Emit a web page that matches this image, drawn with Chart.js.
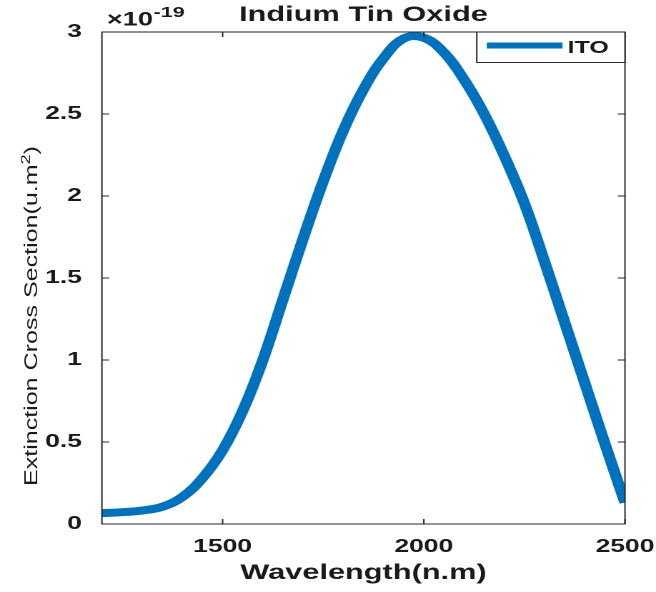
<!DOCTYPE html>
<html>
<head>
<meta charset="utf-8">
<title>Indium Tin Oxide</title>
<script src="https://cdn.jsdelivr.net/npm/chart.js@4.4.1/dist/chart.umd.min.js"></script>
<style>
  html, body { margin: 0; padding: 0; background: #fff; overflow: hidden; }
  /* figure is laid out narrow and stretched sideways, like the exported figure */
  #fig { width: 459px; height: 592px; transform: scaleX(1.4292); transform-origin: 0 0; }
</style>
</head>
<body>
<div id="fig"><canvas id="ito"></canvas></div>
<script>
// ── Data (extinction in units of 1e-19 u.m^2) ──────────────────────
var wavelength = [1200, 1250, 1300, 1350, 1400, 1450, 1500, 1550, 1600, 1650, 1700,
  1750, 1800, 1850, 1900, 1950, 2000, 2050, 2100, 2150, 2200, 2250, 2300,
  2350, 2400, 2450, 2500];
var extinction = [0.066, 0.072, 0.082, 0.105, 0.165, 0.28, 0.45, 0.69, 1.00, 1.37, 1.74,
  2.09, 2.40, 2.65, 2.84, 2.96, 2.965, 2.875, 2.71, 2.50, 2.245, 1.955, 1.60,
  1.23, 0.86, 0.49, 0.13];
var xTicks = [1500, 2000, 2500];
var yTicks = [0, 0.5, 1, 1.5, 2, 2.5, 3];

var seriesLabel = "ITO";
var titleText = "Indium Tin Oxide";
var xTitle = "Wavelength(n.m)";
var yTitleParts = ["Extinction Cross Section(u.m", "2", ")"];
var expParts = ["\u00d710", "-19"];

var FAMILY = '"Liberation Sans", Arial, Helvetica, sans-serif';
var INK = "#1a1a1a";
var FRAME = "#262626";
var BLUE = "#0072bd";

// ── Axes box, inward ticks, title, y label, exponent, legend ───────
var matlabLook = {
  id: "matlabLook",
  afterDraw: function (chart) {
    var ctx = chart.ctx;
    var a = chart.chartArea;
    var xs = chart.scales.x, ys = chart.scales.y;
    ctx.save();

    // frame
    ctx.strokeStyle = FRAME;
    ctx.lineWidth = 1;
    ctx.strokeRect(a.left, a.top, a.right - a.left, a.bottom - a.top);

    // inward tick marks on all four sides
    ctx.beginPath();
    xTicks.forEach(function (v) {
      var px = xs.getPixelForValue(v);
      ctx.moveTo(px, a.bottom); ctx.lineTo(px, a.bottom - 5);
      ctx.moveTo(px, a.top); ctx.lineTo(px, a.top + 5);
    });
    yTicks.forEach(function (v) {
      var py = ys.getPixelForValue(v);
      ctx.moveTo(a.left, py); ctx.lineTo(a.left + 5, py);
      ctx.moveTo(a.right, py); ctx.lineTo(a.right - 5, py);
    });
    ctx.stroke();

    // title over the axes
    ctx.fillStyle = INK;
    ctx.font = "bold 21.5px " + FAMILY;
    ctx.textAlign = "center";
    ctx.textBaseline = "alphabetic";
    ctx.fillText(titleText, (a.left + a.right) / 2, 21);

    // exponent label at the top of the y axis
    ctx.textAlign = "left";
    ctx.font = "bold 19px " + FAMILY;
    var ex = a.left + 3.5;
    ctx.fillText(expParts[0], ex, 25.5);
    ex += ctx.measureText(expParts[0]).width + 0.5;
    ctx.font = "bold 15px " + FAMILY;
    ctx.fillText(expParts[1], ex, 17);

    // rotated y title, long and narrow
    ctx.font = "12.5px " + FAMILY;
    var w1 = ctx.measureText(yTitleParts[0]).width;
    var w3 = ctx.measureText(yTitleParts[2]).width;
    ctx.font = "9px " + FAMILY;
    var w2 = ctx.measureText(yTitleParts[1]).width;
    var total = w1 + w2 + w3;
    ctx.save();
    ctx.translate(26, 316);
    ctx.rotate(-Math.PI / 2);
    ctx.scale(340 / total, 1);
    var x0 = -total / 2;
    ctx.font = "12.5px " + FAMILY;
    ctx.fillText(yTitleParts[0], x0, 0);
    ctx.fillText(yTitleParts[2], x0 + w1 + w2, 0);
    ctx.font = "9px " + FAMILY;
    ctx.fillText(yTitleParts[1], x0 + w1, -5);
    ctx.restore();

    // legend box in the upper right corner
    var ds = chart.data.datasets[0];
    var bx = 333.6, by = a.top, bw = a.right - bx, bh = 30.5;
    ctx.fillStyle = "#fff";
    ctx.fillRect(bx, by, bw, bh);
    ctx.strokeStyle = FRAME;
    ctx.lineWidth = 1;
    ctx.strokeRect(bx, by, bw, bh);
    ctx.strokeStyle = ds.borderColor;
    ctx.lineWidth = 6;
    ctx.beginPath();
    ctx.moveTo(bx + 7, by + 13.5);
    ctx.lineTo(bx + 60, by + 13.5);
    ctx.stroke();
    ctx.fillStyle = INK;
    ctx.font = "bold 17.5px " + FAMILY;
    ctx.fillText(ds.label, bx + 63.5, by + 21);

    ctx.restore();
  }
};

new Chart(document.getElementById("ito"), {
  type: "line",
  data: {
    datasets: [{
      label: seriesLabel,
      data: wavelength.map(function (w, i) { return { x: w, y: extinction[i] }; }),
      borderColor: BLUE,
      backgroundColor: BLUE,
      borderWidth: 8,
      pointRadius: 0,
      tension: 0.4,
      fill: false
    }]
  },
  options: {
    responsive: true,
    maintainAspectRatio: false,
    devicePixelRatio: 2,
    animation: false,
    events: [],
    layout: { padding: { top: 32, right: 21.7, left: 0, bottom: 0 } },
    plugins: { legend: { display: false }, title: { display: false }, tooltip: { enabled: false } },
    scales: {
      x: {
        type: "linear",
        min: 1200,
        max: 2500,
        grid: { display: false },
        border: { display: false },
        afterBuildTicks: function (s) { s.ticks = xTicks.map(function (v) { return { value: v }; }); },
        afterFit: function (s) { s.height = 68; s.paddingLeft = 0; s.paddingRight = 0; },
        ticks: {
          color: INK, padding: 4, maxRotation: 0,
          font: { family: FAMILY, size: 18.5, weight: "bold" },
          callback: function (v) { return String(v); }
        },
        title: {
          display: true,
          text: xTitle,
          color: INK,
          padding: { top: 0, bottom: 6 },
          font: { family: FAMILY, size: 21.5, weight: "bold" }
        }
      },
      y: {
        min: 0,
        max: 3,
        grid: { display: false },
        border: { display: false },
        afterBuildTicks: function (s) { s.ticks = yTicks.map(function (v) { return { value: v }; }); },
        afterFit: function (s) { s.width = 71.3; s.paddingTop = 0; s.paddingBottom = 0; },
        ticks: {
          color: INK, padding: 6,
          font: { family: FAMILY, size: 18.5, weight: "bold" },
          callback: function (v) { return String(v); }
        }
      }
    }
  },
  plugins: [matlabLook]
});
</script>
</body>
</html>
